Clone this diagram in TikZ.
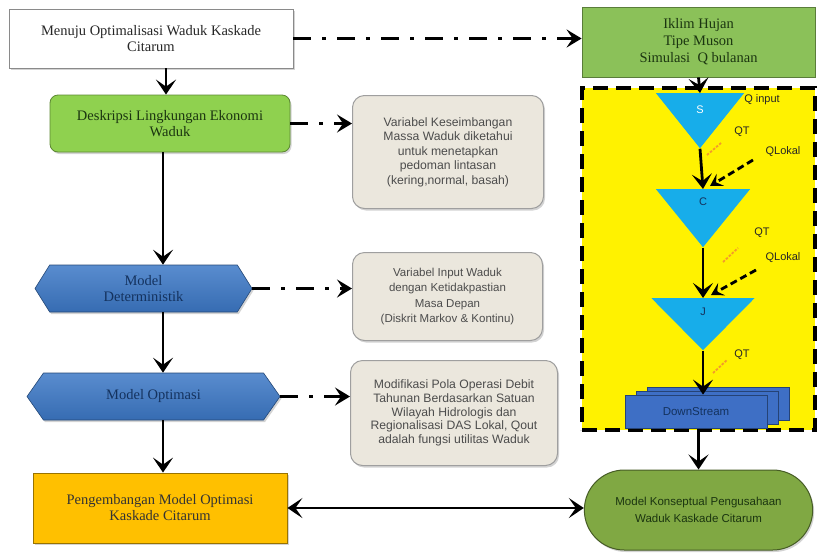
\documentclass[tikz,border=0pt]{standalone}
\usepackage{fontspec}
\setmainfont{Liberation Serif}
\setsansfont{Liberation Sans}
\usepackage{tikz}
\usetikzlibrary{arrows.meta,positioning,shapes.geometric,shapes.symbols,shapes.misc,shadows}

\definecolor{framegray}{HTML}{8A8A8A}
\definecolor{leafgreen}{HTML}{8FD14F}
\definecolor{raingreen}{HTML}{8BC159}
\definecolor{hexblue}{HTML}{3C78C6}
\definecolor{notebeige}{HTML}{EBE7DD}
\definecolor{skycyan}{HTML}{17ADEA}
\definecolor{streamblue}{HTML}{3E6FC5}
\definecolor{amber}{HTML}{FFC000}
\definecolor{konsepgreen}{HTML}{80A843}
\definecolor{darknavy}{HTML}{14325E}
\definecolor{darkleaf}{HTML}{1B3510}
\definecolor{tickorange}{HTML}{F39A2B}

\begin{document}
\begin{tikzpicture}[x=1pt,y=-1pt,
		roman text/.style={font=\fontsize{14.5}{16}\selectfont, align=center},
		sans text/.style={font=\sffamily\fontsize{12.2}{14.5}\selectfont, align=center},
		soft shadow/.style={drop shadow={opacity=0.35, shadow xshift=1.5pt, shadow yshift=-2pt}},
		start box/.style={rectangle, draw=framegray, line width=0.8pt, fill=white, roman text, text=black!85, soft shadow},
		desc box/.style={rectangle, rounded corners=8pt, draw=leafgreen!65!black, line width=0.8pt, fill=leafgreen, roman text, text=darkleaf, soft shadow},
		hexa/.style={signal, signal to=east and west, draw=hexblue!60!black, line width=0.6pt, top color=hexblue!85!white, bottom color=hexblue!90!black, roman text, text=darknavy, inner sep=0pt, minimum height=47pt, soft shadow},
		dev box/.style={rectangle, draw=amber!60!black, line width=0.8pt, fill=amber, roman text, text=black!80, soft shadow},
		rain box/.style={rectangle, draw=raingreen!65!black, line width=0.8pt, fill=raingreen, roman text, text=darkleaf, font=\fontsize{14.5}{17}\selectfont},
		zone box/.style={rectangle, fill=yellow, draw=black, line width=3.5pt, dash pattern=on 15pt off 8pt},
		note/.style={rectangle, rounded corners=12pt, draw=gray!75, line width=1pt, fill=notebeige, sans text, text=black!70, soft shadow},
		tri/.style={isosceles triangle, isosceles triangle stretches, shape border rotate=-90, fill=skycyan, inner sep=0pt, anchor=north},
		tri label/.style={font=\sffamily\fontsize{11}{13}\selectfont},
		q label/.style={font=\sffamily\fontsize{11}{13}\selectfont, text=black!85},
		stream box/.style={rectangle, fill=streamblue, draw=streamblue!60!black, line width=0.8pt, text=darknavy, font=\sffamily\fontsize{11.5}{13}\selectfont,
			copy shadow={shadow xshift=22pt, shadow yshift=8pt}, copy shadow={shadow xshift=11pt, shadow yshift=4pt}},
		konsep box/.style={rounded rectangle, fill=konsepgreen, draw=konsepgreen!55!black, line width=1pt, sans text, font=\sffamily\fontsize{11.5}{17}\selectfont, text=darkleaf, soft shadow},
		flow/.style={line width=2.8pt, -{Stealth[length=15pt,width=20pt,inset=7pt]}},
		both flow/.style={line width=2.8pt, {Stealth[length=15pt,width=20pt,inset=7pt]}-{Stealth[length=15pt,width=20pt,inset=7pt]}},
		dd arrow/.style={line width=3.5pt, dash pattern=on 18pt off 11pt on 4pt off 11pt, -{Stealth[length=15pt,width=18pt,inset=6pt]}},
		lokal arrow/.style={line width=2.8pt, dash pattern=on 7pt off 4pt, -{Stealth[length=12pt,width=14pt,inset=5pt]}},
		qt tick/.style={draw=tickorange, line width=1.8pt, dash pattern=on 2.5pt off 1.5pt}
	]
	\useasboundingbox (0,0) rectangle (818,552);
	\coordinate (axtop) at (166,0);
	\coordinate (axis) at (163,0);

	% left column
	\node[start box, minimum width=284pt, minimum height=59pt] (menuju) at (151,38.5) {Menuju Optimalisasi Waduk Kaskade\\Citarum};
	\node[desc box, minimum width=240pt, minimum height=57pt] (deskripsi) at (170,123.5) {Deskripsi Lingkungan Ekonomi\\Waduk};
	\node[hexa, minimum width=217pt, signal pointer angle=116] (determ) at (143.5,288.5) {Model\\Deterministik};
	\node[hexa, minimum width=253pt, signal pointer angle=110] (optim) at (153.5,396.5) {Model Optimasi};
	\node[dev box, minimum width=254pt, minimum height=70pt] (kembang) at (160,508) {Pengembangan Model Optimasi\\Kaskade Citarum};

	% notes
	\node[note, anchor=north west, minimum width=191pt, minimum height=113pt] (massa) at (352,95)
		{Variabel Keseimbangan\\Massa Waduk diketahui\\untuk menetapkan\\pedoman lintasan\\(kering,normal, basah)};
	\node[note, anchor=north west, minimum width=190pt, minimum height=88pt, font=\sffamily\fontsize{11.5}{15.5}\selectfont] (input) at (352,252)
		{Variabel Input Waduk\\dengan Ketidakpastian\\Masa Depan\\(Diskrit Markov \& Kontinu)};
	\node[note, anchor=north west, minimum width=207pt, minimum height=105pt, font=\sffamily\fontsize{12.2}{13.8}\selectfont] (pola) at (350,360)
		{Modifikasi Pola Operasi Debit\\Tahunan Berdasarkan Satuan\\Wilayah Hidrologis dan\\Regionalisasi DAS Lokal, Qout\\adalah fungsi utilitas Waduk};

	% right column
	\node[rain box, minimum width=233pt, minimum height=70pt] (iklim) at (698.5,42) {Iklim Hujan\\Tipe Muson\\Simulasi\enspace Q bulanan};
	\node[zone box, minimum width=233pt, minimum height=342pt] (zone) at (698.5,259) {};
	\node[tri, minimum width=88pt, minimum height=55pt] (S) at (700,93) {};
	\node[tri, minimum width=94pt, minimum height=58pt] (C) at (703,189) {};
	\node[tri, minimum width=103pt, minimum height=52pt] (J) at (703,298) {};
	\node[tri label, text=white] (slab) at (700,110) {S};
	\node[tri label, text=darknavy] (clab) at (703,202) {C};
	\node[tri label, text=darknavy] (jlab) at (703,312) {J};
	\node[q label] (qin) at (762,100) {Q input};
	\node[q label] (qt1) at (742,132) {QT};
	\node[q label] (lok1) at (783,152) {QLokal};
	\node[q label] (qt2) at (762,233) {QT};
	\node[q label] (lok2) at (783,258) {QLokal};
	\node[q label] (qt3) at (742,355) {QT};
	\node[stream box, minimum width=142pt, minimum height=33pt] (down) at (696,411.5) {DownStream};
	\node[konsep box, minimum width=235pt, minimum height=80pt] (konsep) at (698.5,510) {Model Konseptual Pengusahaan\\Waduk Kaskade Citarum};
	\coordinate (lokal1) at (753,160);
	\coordinate (lokal2) at (756,270);

	\draw[flow] (menuju.south -| axtop) -- (deskripsi.north -| axtop);
	\draw[flow] (deskripsi.south -| axis) -- (determ.north -| axis);
	\draw[flow] (determ.south -| axis) -- (optim.north -| axis);
	\draw[flow] (optim.south -| axis) -- (kembang.north -| axis);
	\draw[both flow] (kembang.east) -- (kembang.east -| konsep.west);

	\draw[dd arrow] (menuju.east) -- (menuju.east -| iklim.west);
	\draw[dd arrow] (deskripsi.east) -- (deskripsi.east -| massa.west);
	\draw[dd arrow] (determ.east) -- (determ.east -| input.west);
	\draw[dd arrow] (optim.east) -- (optim.east -| pola.west);

	\draw[flow] (iklim.south) -- (S.north);
	\draw[flow] (S.apex) -- (C.north);
	\draw[flow] (C.apex) -- (J.north);
	\draw[flow] (J.apex) -- (J.apex |- down.north);
	\draw[flow] (zone.south) -- (konsep.north);
	\draw[lokal arrow] (lokal1) -- ([xshift=7pt,yshift=3pt]C.north);
	\draw[lokal arrow] (lokal2) -- ([xshift=8pt,yshift=3pt]J.north);
	\draw[qt tick] (707,155) -- (721,143);
	\draw[qt tick] (723,262) -- (738,248);
	\draw[qt tick] (713,373) -- (727,360);
\end{tikzpicture}
\end{document}
